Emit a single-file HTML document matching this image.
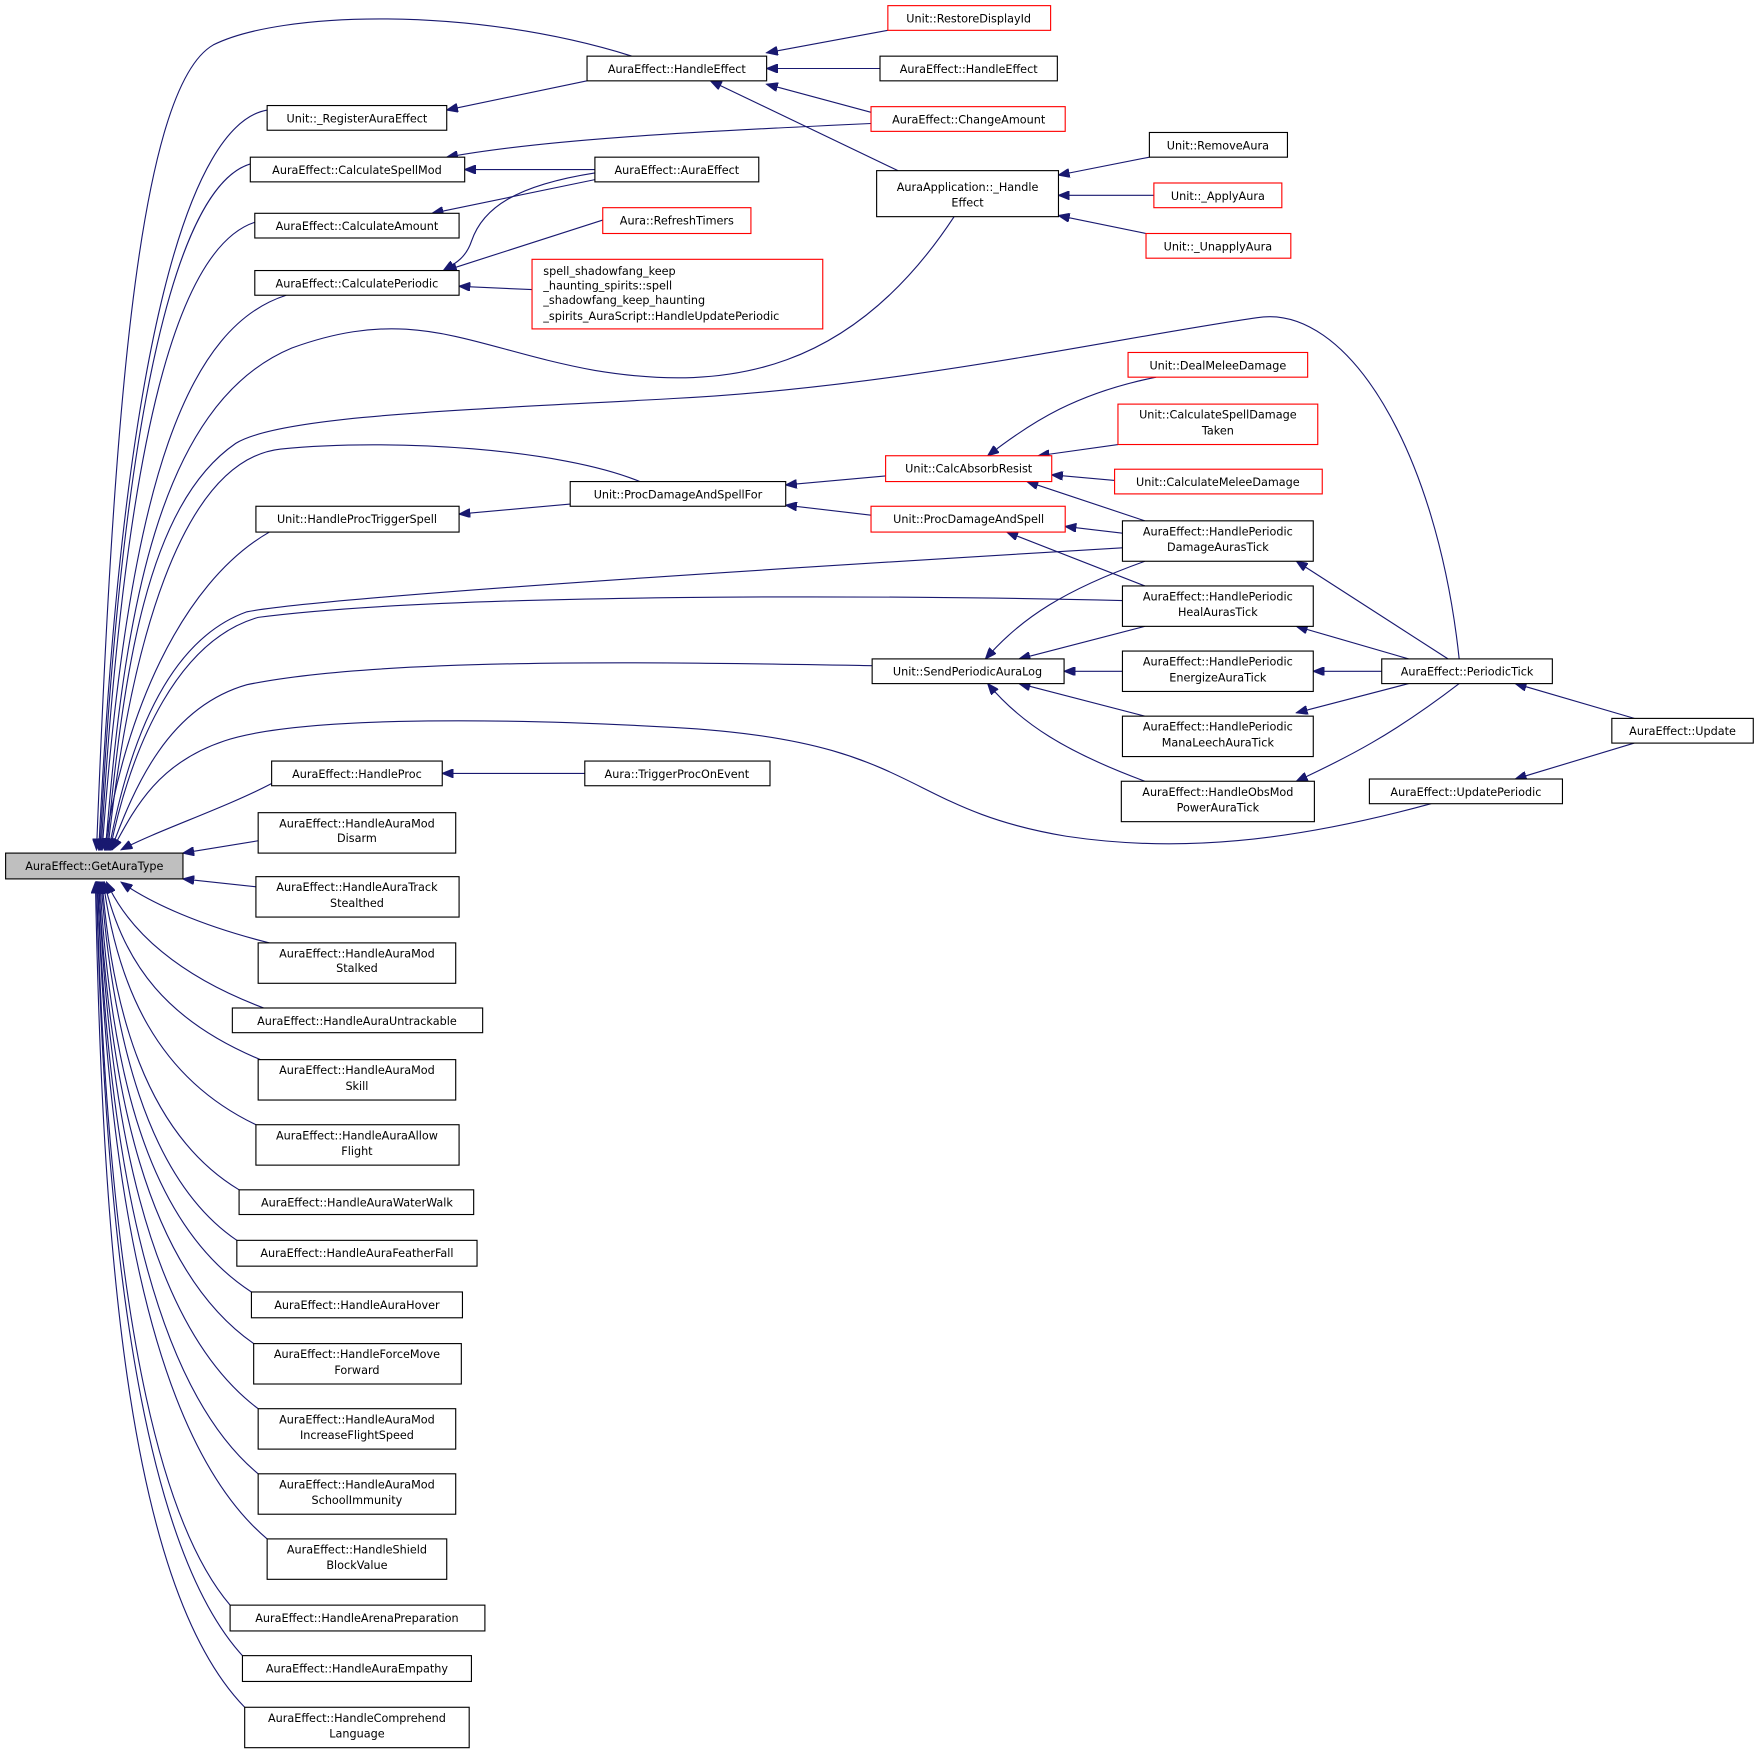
<!DOCTYPE html>
<html><head><meta charset="utf-8"><style>
html,body{margin:0;padding:0;background:#fff;}
svg{display:block;}
text{font-family:"DejaVu Sans","Liberation Sans",sans-serif;font-size:10px;fill:#000;}
.n{fill:#fff;stroke:#000;stroke-width:1;}
.r{fill:#fff;stroke:#ff0000;stroke-width:1;}
.g{fill:#bfbfbf;stroke:#000;stroke-width:1;}
.e{fill:none;stroke:#191970;stroke-width:1;}
</style></head><body>
<svg width="1760" height="1754" viewBox="0 0 1568 1562.6" xmlns="http://www.w3.org/2000/svg">
<defs><marker id="a" markerWidth="11" markerHeight="8" refX="10" refY="4" orient="auto" markerUnits="userSpaceOnUse"><path d="M0,0 L10,4 L0,8 Z" fill="#191970" stroke="#191970"/></marker></defs>
<g class="edges">
<!-- into root from left column -->
<path class="e" marker-end="url(#a)" d="M238,98 C170,110 110,300 88,757"/>
<path class="e" marker-end="url(#a)" d="M223,146 C160,165 110,350 89,757"/>
<path class="e" marker-end="url(#a)" d="M227,198 C160,220 112,380 90,757"/>
<path class="e" marker-end="url(#a)" d="M255,263 C170,290 115,420 91,757"/>
<path class="e" marker-end="url(#a)" d="M240,474 C160,520 110,640 93,757"/>
<path class="e" marker-end="url(#a)" d="M242,698 C200,720 140,740 108,757"/>
<path class="e" marker-end="url(#a)" d="M230,749 L163,760"/>
<path class="e" marker-end="url(#a)" d="M228,790 L163,783"/>
<path class="e" marker-end="url(#a)" d="M240,840 C180,825 135,805 108,786"/>
<path class="e" marker-end="url(#a)" d="M235,898 C160,870 115,830 95,786"/>
<path class="e" marker-end="url(#a)" d="M232,944 C150,910 110,860 93,786"/>
<path class="e" marker-end="url(#a)" d="M228,1002 C140,960 105,880 92,786"/>
<path class="e" marker-end="url(#a)" d="M213,1060 C130,1010 100,900 91,786"/>
<path class="e" marker-end="url(#a)" d="M211,1105 C130,1050 100,920 90,786"/>
<path class="e" marker-end="url(#a)" d="M224,1151 C130,1090 98,950 89,786"/>
<path class="e" marker-end="url(#a)" d="M226,1197 C130,1130 97,970 88,786"/>
<path class="e" marker-end="url(#a)" d="M230,1255 C130,1180 96,990 88,786"/>
<path class="e" marker-end="url(#a)" d="M230,1313 C130,1230 95,1010 87,786"/>
<path class="e" marker-end="url(#a)" d="M238,1371 C130,1280 94,1030 87,786"/>
<path class="e" marker-end="url(#a)" d="M205,1430 C120,1330 93,1050 86,786"/>
<path class="e" marker-end="url(#a)" d="M216,1475 C120,1370 92,1070 86,786"/>
<path class="e" marker-end="url(#a)" d="M218,1521 C110,1410 91,1090 85,786"/>
<!-- long curves into root -->
<path class="e" marker-end="url(#a)" d="M563,50 C420,5 250,10 190,40 C120,80 100,400 86,757"/>
<path class="e" marker-end="url(#a)" d="M850,193 C760,330 650,350 530,330 C420,310 370,270 260,310 C140,360 110,550 94,757"/>
<path class="e" marker-end="url(#a)" d="M1300,587 C1280,400 1200,270 1120,283 C1000,300 800,345 600,355 C420,365 250,370 210,395 C130,450 110,600 95,757"/>
<path class="e" marker-end="url(#a)" d="M570,429 C500,400 350,390 250,400 C160,410 115,580 96,757"/>
<path class="e" marker-end="url(#a)" d="M1000,488 C800,500 300,530 220,545 C150,570 115,660 97,757"/>
<path class="e" marker-end="url(#a)" d="M1000,535 C800,530 400,528 230,550 C160,570 118,660 98,757"/>
<path class="e" marker-end="url(#a)" d="M777,593 C600,590 340,585 220,610 C150,630 120,700 99,757"/>
<path class="e" marker-end="url(#a)" d="M1275,716 C1150,750 1050,760 950,745 C800,720 820,660 600,648 C420,638 260,640 200,660 C140,680 120,720 100,757"/>
<!-- other -->
<path class="e" marker-end="url(#a)" d="M523,72 L398,98"/>
<path class="e" marker-end="url(#a)" d="M791,27 L683,47"/>
<path class="e" marker-end="url(#a)" d="M784,61 L683,61"/>
<path class="e" marker-end="url(#a)" d="M776,100 L683,75"/>
<path class="e" marker-end="url(#a)" d="M800,152 L633,72"/>
<path class="e" marker-end="url(#a)" d="M776,110 C600,118 480,125 398,140"/>
<path class="e" marker-end="url(#a)" d="M530,151 L414,151"/>
<path class="e" marker-end="url(#a)" d="M530,160 L385,190"/>
<path class="e" marker-end="url(#a)" d="M530,154 C460,165 430,185 420,215 C415,230 405,235 395,241"/>
<path class="e" marker-end="url(#a)" d="M537,196 L397,241"/>
<path class="e" marker-end="url(#a)" d="M474,258 L409,255"/>
<path class="e" marker-end="url(#a)" d="M1024,140 L943,156"/>
<path class="e" marker-end="url(#a)" d="M1028,174 L943,174"/>
<path class="e" marker-end="url(#a)" d="M1021,208 L943,192"/>
<path class="e" marker-end="url(#a)" d="M508,449 L409,458"/>
<path class="e" marker-end="url(#a)" d="M789,424 L700,432"/>
<path class="e" marker-end="url(#a)" d="M776,459 L700,450"/>
<path class="e" marker-end="url(#a)" d="M1030,336 C960,350 920,375 880,406"/>
<path class="e" marker-end="url(#a)" d="M996,396 L925,406"/>
<path class="e" marker-end="url(#a)" d="M993,428 L937,423"/>
<path class="e" marker-end="url(#a)" d="M1020,464 L915,429"/>
<path class="e" marker-end="url(#a)" d="M1000,475 L949,469"/>
<path class="e" marker-end="url(#a)" d="M1020,522 L897,474"/>
<path class="e" marker-end="url(#a)" d="M1020,500 C950,525 910,550 878,587"/>
<path class="e" marker-end="url(#a)" d="M1020,558 L908,587"/>
<path class="e" marker-end="url(#a)" d="M1000,598 L948,598"/>
<path class="e" marker-end="url(#a)" d="M1020,638 L908,609"/>
<path class="e" marker-end="url(#a)" d="M1020,696 C950,670 910,645 880,609"/>
<path class="e" marker-end="url(#a)" d="M521,689 L394,689"/>
<path class="e" marker-end="url(#a)" d="M1231,598 L1170,598"/>
<path class="e" marker-end="url(#a)" d="M1290,587 L1155,500"/>
<path class="e" marker-end="url(#a)" d="M1255,587 L1155,558"/>
<path class="e" marker-end="url(#a)" d="M1255,609 L1155,635"/>
<path class="e" marker-end="url(#a)" d="M1300,609 C1240,655 1200,675 1155,696"/>
<path class="e" marker-end="url(#a)" d="M1456,640 L1350,609"/>
<path class="e" marker-end="url(#a)" d="M1456,662 L1350,694"/>
</g>
<g>
<rect class="g" x="5" y="760" width="158" height="23"/><text x="84" y="775" text-anchor="middle">AuraEffect::GetAuraType</text>

<rect class="n" x="238" y="94" width="160" height="22"/><text x="318" y="109" text-anchor="middle">Unit::_RegisterAuraEffect</text>
<rect class="n" x="223" y="140" width="191" height="22"/><text x="318" y="155" text-anchor="middle">AuraEffect::CalculateSpellMod</text>
<rect class="n" x="227" y="190" width="182" height="22"/><text x="318" y="205" text-anchor="middle">AuraEffect::CalculateAmount</text>
<rect class="n" x="227" y="241" width="182" height="22"/><text x="318" y="256" text-anchor="middle">AuraEffect::CalculatePeriodic</text>
<rect class="n" x="228" y="451" width="181" height="23"/><text x="318" y="466" text-anchor="middle">Unit::HandleProcTriggerSpell</text>
<rect class="n" x="242" y="678" width="152" height="22"/><text x="318" y="693" text-anchor="middle">AuraEffect::HandleProc</text>
<rect class="n" x="230" y="724" width="176" height="36"/><text x="318" y="737" text-anchor="middle">AuraEffect::HandleAuraMod</text><text x="318" y="750" text-anchor="middle">Disarm</text>
<rect class="n" x="228" y="781" width="181" height="36"/><text x="318" y="794" text-anchor="middle">AuraEffect::HandleAuraTrack</text><text x="318" y="808" text-anchor="middle">Stealthed</text>
<rect class="n" x="230" y="840" width="176" height="36"/><text x="318" y="853" text-anchor="middle">AuraEffect::HandleAuraMod</text><text x="318" y="866" text-anchor="middle">Stalked</text>
<rect class="n" x="207" y="898" width="223" height="22"/><text x="318" y="913" text-anchor="middle">AuraEffect::HandleAuraUntrackable</text>
<rect class="n" x="230" y="944" width="176" height="36"/><text x="318" y="957" text-anchor="middle">AuraEffect::HandleAuraMod</text><text x="318" y="971" text-anchor="middle">Skill</text>
<rect class="n" x="228" y="1002" width="181" height="36"/><text x="318" y="1015" text-anchor="middle">AuraEffect::HandleAuraAllow</text><text x="318" y="1029" text-anchor="middle">Flight</text>
<rect class="n" x="213" y="1060" width="209" height="22"/><text x="318" y="1075" text-anchor="middle">AuraEffect::HandleAuraWaterWalk</text>
<rect class="n" x="211" y="1105" width="214" height="23"/><text x="318" y="1120" text-anchor="middle">AuraEffect::HandleAuraFeatherFall</text>
<rect class="n" x="224" y="1151" width="188" height="23"/><text x="318" y="1166" text-anchor="middle">AuraEffect::HandleAuraHover</text>
<rect class="n" x="226" y="1197" width="185" height="36"/><text x="318" y="1210" text-anchor="middle">AuraEffect::HandleForceMove</text><text x="318" y="1224" text-anchor="middle">Forward</text>
<rect class="n" x="230" y="1255" width="176" height="36"/><text x="318" y="1268" text-anchor="middle">AuraEffect::HandleAuraMod</text><text x="318" y="1282" text-anchor="middle">IncreaseFlightSpeed</text>
<rect class="n" x="230" y="1313" width="176" height="36"/><text x="318" y="1326" text-anchor="middle">AuraEffect::HandleAuraMod</text><text x="318" y="1340" text-anchor="middle">SchoolImmunity</text>
<rect class="n" x="238" y="1371" width="160" height="36"/><text x="318" y="1384" text-anchor="middle">AuraEffect::HandleShield</text><text x="318" y="1398" text-anchor="middle">BlockValue</text>
<rect class="n" x="205" y="1430" width="227" height="23"/><text x="318" y="1445" text-anchor="middle">AuraEffect::HandleArenaPreparation</text>
<rect class="n" x="216" y="1475" width="204" height="23"/><text x="318" y="1490" text-anchor="middle">AuraEffect::HandleAuraEmpathy</text>
<rect class="n" x="218" y="1521" width="200" height="36"/><text x="318" y="1534" text-anchor="middle">AuraEffect::HandleComprehend</text><text x="318" y="1548" text-anchor="middle">Language</text>

<rect class="n" x="523" y="50" width="160" height="22"/><text x="603" y="65" text-anchor="middle">AuraEffect::HandleEffect</text>
<rect class="n" x="530" y="140" width="146" height="22"/><text x="603" y="155" text-anchor="middle">AuraEffect::AuraEffect</text>
<rect class="r" x="537" y="185" width="132" height="23"/><text x="603" y="200" text-anchor="middle">Aura::RefreshTimers</text>
<rect class="r" x="474" y="231" width="259" height="62"/>
<text x="484" y="245">spell_shadowfang_keep</text><text x="484" y="258">_haunting_spirits::spell</text><text x="484" y="271">_shadowfang_keep_haunting</text><text x="484" y="285">_spirits_AuraScript::HandleUpdatePeriodic</text>
<rect class="n" x="508" y="429" width="192" height="22"/><text x="604" y="444" text-anchor="middle">Unit::ProcDamageAndSpellFor</text>
<rect class="n" x="521" y="678" width="165" height="22"/><text x="603" y="693" text-anchor="middle">Aura::TriggerProcOnEvent</text>

<rect class="r" x="791" y="5" width="145" height="22"/><text x="863" y="20" text-anchor="middle">Unit::RestoreDisplayId</text>
<rect class="n" x="784" y="50" width="158" height="22"/><text x="863" y="65" text-anchor="middle">AuraEffect::HandleEffect</text>
<rect class="r" x="776" y="95" width="173" height="22"/><text x="863" y="110" text-anchor="middle">AuraEffect::ChangeAmount</text>
<rect class="n" x="781" y="152" width="162" height="41"/><text x="862" y="170" text-anchor="middle">AuraApplication::_Handle</text><text x="862" y="184" text-anchor="middle">Effect</text>
<rect class="r" x="789" y="406" width="148" height="23"/><text x="863" y="421" text-anchor="middle">Unit::CalcAbsorbResist</text>
<rect class="r" x="776" y="451" width="173" height="23"/><text x="863" y="466" text-anchor="middle">Unit::ProcDamageAndSpell</text>
<rect class="n" x="777" y="587" width="171" height="22"/><text x="862" y="602" text-anchor="middle">Unit::SendPeriodicAuraLog</text>

<rect class="n" x="1024" y="118" width="123" height="22"/><text x="1085" y="133" text-anchor="middle">Unit::RemoveAura</text>
<rect class="r" x="1028" y="163" width="114" height="22"/><text x="1085" y="178" text-anchor="middle">Unit::_ApplyAura</text>
<rect class="r" x="1021" y="208" width="129" height="22"/><text x="1085" y="223" text-anchor="middle">Unit::_UnapplyAura</text>
<rect class="r" x="1005" y="314" width="160" height="22"/><text x="1085" y="329" text-anchor="middle">Unit::DealMeleeDamage</text>
<rect class="r" x="996" y="360" width="178" height="36"/><text x="1085" y="373" text-anchor="middle">Unit::CalculateSpellDamage</text><text x="1085" y="387" text-anchor="middle">Taken</text>
<rect class="r" x="993" y="418" width="185" height="22"/><text x="1085" y="433" text-anchor="middle">Unit::CalculateMeleeDamage</text>
<rect class="n" x="1000" y="464" width="170" height="36"/><text x="1085" y="477" text-anchor="middle">AuraEffect::HandlePeriodic</text><text x="1085" y="491" text-anchor="middle">DamageAurasTick</text>
<rect class="n" x="1000" y="522" width="170" height="36"/><text x="1085" y="535" text-anchor="middle">AuraEffect::HandlePeriodic</text><text x="1085" y="549" text-anchor="middle">HealAurasTick</text>
<rect class="n" x="1000" y="580" width="170" height="36"/><text x="1085" y="593" text-anchor="middle">AuraEffect::HandlePeriodic</text><text x="1085" y="607" text-anchor="middle">EnergizeAuraTick</text>
<rect class="n" x="1000" y="638" width="170" height="36"/><text x="1085" y="651" text-anchor="middle">AuraEffect::HandlePeriodic</text><text x="1085" y="665" text-anchor="middle">ManaLeechAuraTick</text>
<rect class="n" x="999" y="696" width="172" height="36"/><text x="1085" y="709" text-anchor="middle">AuraEffect::HandleObsMod</text><text x="1085" y="723" text-anchor="middle">PowerAuraTick</text>

<rect class="n" x="1231" y="587" width="152" height="22"/><text x="1307" y="602" text-anchor="middle">AuraEffect::PeriodicTick</text>
<rect class="n" x="1220" y="694" width="172" height="22"/><text x="1306" y="709" text-anchor="middle">AuraEffect::UpdatePeriodic</text>
<rect class="n" x="1436" y="640" width="126" height="22"/><text x="1499" y="655" text-anchor="middle">AuraEffect::Update</text>
</g>
</svg>
</body></html>
